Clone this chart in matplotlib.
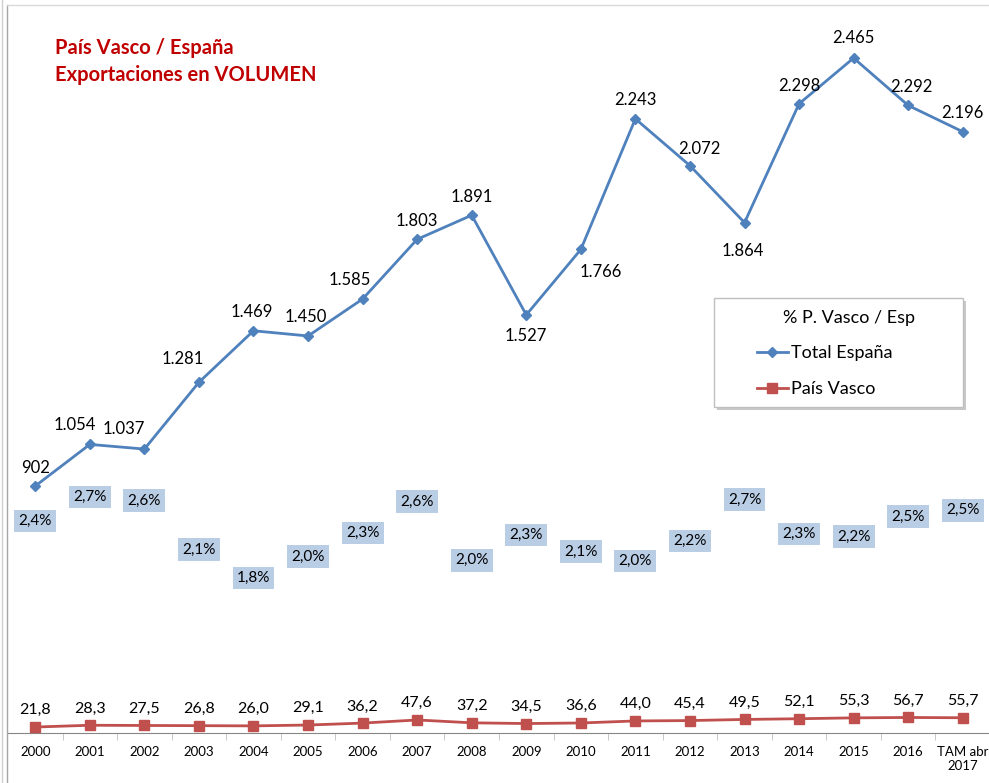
import numpy as np
import matplotlib.pyplot as plt
from matplotlib.lines import Line2D
from matplotlib.patches import Rectangle

plt.rcParams['font.family'] = ['Lato', 'DejaVu Sans']

categories = ["2000", "2001", "2002", "2003", "2004", "2005", "2006", "2007", "2008",
              "2009", "2010", "2011", "2012", "2013", "2014", "2015", "2016", "TAM abr\n2017"]
total_espana = [902, 1054, 1037, 1281, 1469, 1450, 1585, 1803, 1891,
                1527, 1766, 2243, 2072, 1864, 2298, 2465, 2292, 2196]
pais_vasco = [21.8, 28.3, 27.5, 26.8, 26.0, 29.1, 36.2, 47.6, 37.2,
              34.5, 36.6, 44.0, 45.4, 49.5, 52.1, 55.3, 56.7, 55.7]
pct_vasco = [2.42, 2.69, 2.65, 2.09, 1.77, 2.01, 2.28, 2.64, 1.97,
             2.26, 2.07, 1.96, 2.19, 2.66, 2.27, 2.24, 2.47, 2.54]

# label offsets (pixels) for the Total España labels
blue_offsets = [(0, 18), (-15, 19), (-21, 20), (-16, 23), (-2, 19), (-2, 19), (-13, 19),
                (0, 18), (0, 18), (0, -21), (20, -23), (0, 19), (9, 17), (-2, -28),
                (0, 18), (0, 20), (3, 18), (0, 19)]

BLUE = "#4F81BD"
RED = "#C0504D"


def fmt_thousands(v):
    return f"{v:,}".replace(",", ".")


def fmt_dec(v):
    return f"{v:.1f}".replace(".", ",")


def fx(px):
    return px / 989


def fy(py):
    return 1 - py / 783


def main():
    fig = plt.figure(figsize=(9.89, 7.83), dpi=100)
    ax = fig.add_axes([8 / 989, 50 / 783, 982 / 989, 733 / 783])
    x = np.arange(len(categories))

    ax.plot(x, total_espana, color=BLUE, lw=2, marker="D", ms=5, zorder=3)
    ax.plot(x, pais_vasco, color=RED, lw=2, marker="s", ms=7, zorder=3)

    ax.set_xlim(-0.5, len(categories) - 0.5)
    ax.set_ylim(0, 2677)
    ax.set_yticks([])
    for s in ["left", "right", "top"]:
        ax.spines[s].set_visible(False)
    ax.spines["bottom"].set_color("#868686")
    ax.set_xticks(x, categories)
    ax.tick_params(axis="x", which="major", length=0, pad=9, labelsize=9.5)
    ax.set_xticks(np.arange(0.5, len(categories) - 0.5, 1), minor=True)
    ax.tick_params(axis="x", which="minor", length=5, color="#BFBFBF", direction="out")

    for xi, v, (dx, dy) in zip(x, total_espana, blue_offsets):
        ax.annotate(fmt_thousands(v), (xi, v), xytext=(dx * 0.72, dy * 0.72),
                    textcoords="offset points", ha="center", va="center", fontsize=12)
    for xi, v in zip(x, pais_vasco):
        ax.annotate(fmt_dec(v), (xi, v), xytext=(0, 12), textcoords="offset points",
                    ha="center", va="center", fontsize=11.5)

    ax2 = ax.twinx()
    ax2.set_ylim(0, 8.36)
    ax2.set_yticks([])
    for s in ax2.spines.values():
        s.set_visible(False)
    for xi, p in zip(x, pct_vasco):
        ax2.text(xi, p, fmt_dec(p) + "%", ha="center", va="center", fontsize=11,
                 bbox=dict(boxstyle="square,pad=0.28", fc="#B9CDE5", ec="none"))

    # legend box
    box = Rectangle((fx(714), fy(407)), fx(963) - fx(714), fy(298) - fy(407),
                    transform=fig.transFigure, fc="white", ec="#BFBFBF", lw=1, zorder=5)
    shadow = Rectangle((fx(717), fy(410)), fx(963) - fx(714), fy(298) - fy(407),
                       transform=fig.transFigure, fc="#C8C8C8", ec="none", zorder=4)
    fig.add_artist(shadow)
    fig.add_artist(box)
    fig.text(fx(783), fy(318), "% P. Vasco / Esp", fontsize=13, ha="left", va="center",
             zorder=6)

    handles = [Line2D([], [], color=BLUE, lw=2, marker="D", ms=5),
               Line2D([], [], color=RED, lw=2, marker="s", ms=7)]
    leg = fig.legend(handles, ["Total España", "País Vasco"],
                     loc="upper left", bbox_to_anchor=(fx(757), fy(345)),
                     borderaxespad=0, borderpad=0,
                     fontsize=13, frameon=False, handlelength=1.7, handletextpad=0.2,
                     labelspacing=1.1)
    leg.set_zorder(6)

    fig.text(fx(55), fy(48), "País Vasco / España", color="#C00000",
             fontsize=14.5, fontweight="bold", va="center", ha="left")
    fig.text(fx(55), fy(75), "Exportaciones en VOLUMEN", color="#C00000",
             fontsize=14.5, fontweight="bold", va="center", ha="left")

    # chart frame edges
    fig.add_artist(Line2D([fx(7), fx(7)], [0, fy(5)], color="#A6A6A6", lw=1,
                          transform=fig.transFigure))
    fig.add_artist(Line2D([fx(1.5), fx(1.5)], [0, 1], color="#D0D0D0", lw=1,
                          transform=fig.transFigure))
    fig.add_artist(Line2D([fx(7), 1], [fy(5), fy(5)], color="#D9D9D9", lw=1,
                          transform=fig.transFigure))

    fig.savefig("out.png", dpi=100)
    plt.close(fig)


if __name__ == "__main__":
    main()
